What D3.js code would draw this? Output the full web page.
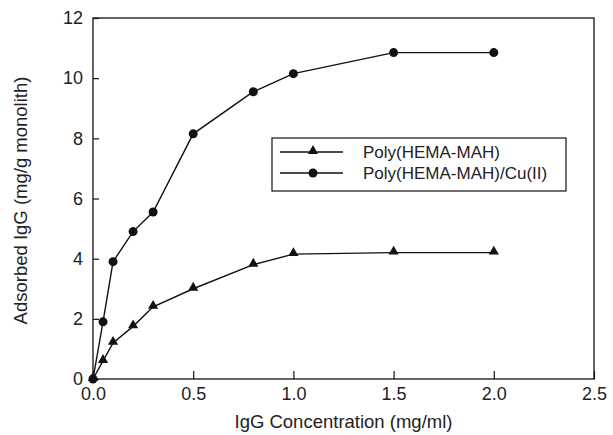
<html>
<head>
<script src="https://d3js.org/d3.v7.min.js"></script>
<style>
body { margin: 0; background: #fff; }
text { font-family: "Liberation Sans", Arial, sans-serif; fill: #222; }
</style>
</head>
<body>
<svg id="chart" width="613" height="435"></svg>
<script>
const conc = [0, 0.05, 0.1, 0.2, 0.3, 0.5, 0.8, 1.0, 1.5, 2.0];
const polyHemaMah = [0, 0.6, 1.2, 1.75, 2.4, 3.0, 3.8, 4.15, 4.2, 4.2];
const polyHemaMahCu = [0, 1.9, 3.9, 4.9, 5.55, 8.15, 9.55, 10.15, 10.85, 10.85];
const xTicks = [0, 0.5, 1.0, 1.5, 2.0, 2.5];
const yTicks = [0, 2, 4, 6, 8, 10, 12];
const seriesNames = ["Poly(HEMA-MAH)", "Poly(HEMA-MAH)/Cu(II)"];

const svg = d3.select('svg#chart');
const margins = {top: 18, right: 19, bottom: 56, left: 93};
const width = +svg.attr('width');
const height = +svg.attr('height');
const chartWidth = width - margins.left - margins.right;
const chartHeight = height - margins.top - margins.bottom;

const xScale = d3.scaleLinear().domain([0, 2.5]).range([0, chartWidth]);
const yScale = d3.scaleLinear().domain([0, 12]).range([chartHeight, 0]);

const chart = svg.append('g')
    .attr('transform', `translate(${margins.left},${margins.top})`);

// frame
chart.append('rect')
    .attr('width', chartWidth).attr('height', chartHeight)
    .attr('fill', 'none').attr('stroke', '#111').attr('stroke-width', 1.3);

// inward ticks
const bottomAxis = d3.axisBottom(xScale).tickValues(xTicks)
    .tickSize(-8).tickPadding(11).tickFormat(d3.format('.1f'));
const bx = chart.append('g').attr('transform', `translate(0,${chartHeight})`).call(bottomAxis);
const leftAxis = d3.axisLeft(yScale).tickValues(yTicks)
    .tickSize(-6).tickPadding(10).tickFormat(d3.format('d'));
const ly = chart.append('g').call(leftAxis);

[bx, ly].forEach(g => {
    g.select('.domain').remove();
    g.selectAll('line').attr('stroke', '#111').attr('stroke-width', 1.2);
    g.selectAll('text').attr('font-size', '18px').style('fill', '#222');
});
bx.selectAll('text').attr('dy', '0.55em');

// series
const line = d3.line().x(d => xScale(d[0])).y(d => yScale(d[1]));
const tri = d3.symbol().type(d3.symbolTriangle).size(45);

const s1 = conc.map((c, i) => [c, polyHemaMah[i]]);
const s2 = conc.map((c, i) => [c, polyHemaMahCu[i]]);

[s1, s2].forEach(s => {
    chart.append('path').datum(s).attr('d', line)
        .attr('fill', 'none').attr('stroke', '#111').attr('stroke-width', 1.4);
});

chart.selectAll('.tri').data(s1).enter().append('path')
    .attr('class', 'tri')
    .attr('d', tri)
    .attr('transform', d => `translate(${xScale(d[0])},${yScale(d[1]) - 1})`)
    .attr('fill', '#111');

chart.selectAll('.dot').data(s2).enter().append('circle')
    .attr('class', 'dot')
    .attr('cx', d => xScale(d[0])).attr('cy', d => yScale(d[1]))
    .attr('r', 4.5).attr('fill', '#111');

// legend
const legend = svg.append('g').attr('transform', 'translate(272,138)');
legend.append('rect').attr('width', 294).attr('height', 53)
    .attr('fill', '#fff').attr('stroke', '#111').attr('stroke-width', 1.2);
seriesNames.forEach((name, i) => {
    const y = 14 + i * 21;
    legend.append('line').attr('x1', 8).attr('x2', 71).attr('y1', y).attr('y2', y)
        .attr('stroke', '#111').attr('stroke-width', 1.4);
    if (i === 0) {
        legend.append('path').attr('d', tri)
            .attr('transform', `translate(41,${y - 1})`).attr('fill', '#111');
    } else {
        legend.append('circle').attr('cx', 41).attr('cy', y).attr('r', 4.5).attr('fill', '#111');
    }
    legend.append('text').attr('x', 91).attr('y', y).attr('dy', '0.35em')
        .attr('font-size', '17px').text(name);
});

// axis titles
svg.append('text')
    .attr('x', margins.left + chartWidth / 2).attr('y', 428)
    .attr('text-anchor', 'middle').attr('font-size', '18.5px')
    .text('IgG Concentration (mg/ml)');
svg.append('text')
    .attr('transform', `translate(27,${margins.top + chartHeight / 2 + 2}) rotate(-90)`)
    .attr('text-anchor', 'middle').attr('font-size', '18.5px')
    .text('Adsorbed IgG (mg/g monolith)');
</script>
</body>
</html>
